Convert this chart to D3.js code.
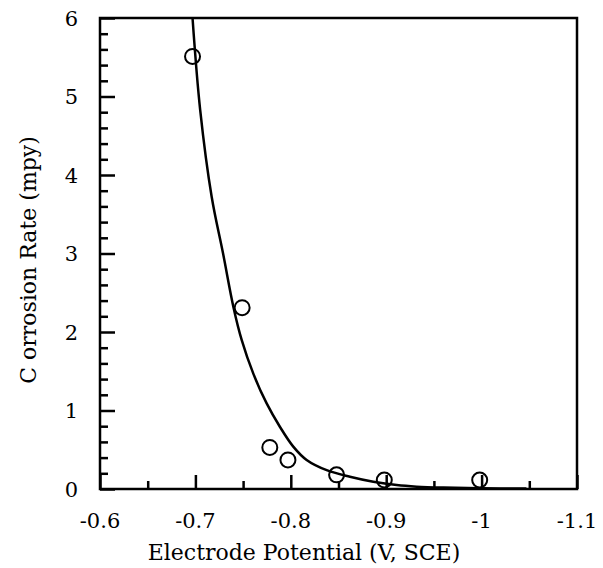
<!DOCTYPE html>
<html>
<head>
<meta charset="utf-8">
<script src="https://cdn.jsdelivr.net/npm/d3@7/dist/d3.min.js"></script>
<style>
  html, body { margin: 0; padding: 0; background: #fff; }
  svg text { font-family: "DejaVu Serif", "Liberation Serif", serif; fill: #000; }
</style>
</head>
<body>
<svg id="chart" width="603" height="568"></svg>
<script>
// Measured points
const potentials = [-0.697, -0.749, -0.778, -0.797, -0.848, -0.898, -0.998];
const rates      = [5.51, 2.31, 0.53, 0.37, 0.18, 0.115, 0.115];

// Fitted curve
const curveX = [-0.697, -0.705, -0.7171, -0.729, -0.740, -0.7485, -0.7607, -0.7747, -0.7887, -0.8026, -0.8166, -0.8376, -0.862, -0.8865, -0.911, -0.932, -0.96, -1.0, -1.047];
const curveY = [6.0, 4.83, 3.72, 3.0, 2.31, 1.90, 1.47, 1.09, 0.79, 0.54, 0.37, 0.24, 0.157, 0.093, 0.05, 0.03, 0.018, 0.01, 0.005];

const xTicks = [-0.6, -0.7, -0.8, -0.9, -1, -1.1];
const xMinorTicks = [-0.65, -0.75, -0.85, -0.95, -1.05];
const yTicks = [0, 1, 2, 3, 4, 5, 6];
const yMinorTicks = [0.2, 0.4, 0.6, 0.8, 1.2, 1.4, 1.6, 1.8, 2.2, 2.4, 2.6, 2.8, 3.2, 3.4, 3.6, 3.8, 4.2, 4.4, 4.6, 4.8, 5.2, 5.4, 5.6, 5.8];

const svg = d3.select("#chart");
const L = 100, R = 577, T = 18, B = 489;
const x = d3.scaleLinear().domain([-0.6, -1.1]).range([L, R]);
const y = d3.scaleLinear().domain([0, 6]).range([B, T]);

// Frame
svg.append("rect").attr("x", L).attr("y", T).attr("width", R - L).attr("height", B - T)
  .attr("fill", "none").attr("stroke", "#000").attr("stroke-width", 2.5);

// Inward ticks via D3 axes
const styleAxis = s => {
  s.select(".domain").remove();
  s.selectAll(".tick line").attr("stroke", "#000").attr("stroke-width", 2.5);
  s.selectAll(".tick text").remove();
};
svg.append("g").attr("transform", `translate(${L},0)`)
  .call(d3.axisRight(y).tickValues(yTicks).tickSize(15)).call(styleAxis);
svg.append("g").attr("transform", `translate(${L},0)`)
  .call(d3.axisRight(y).tickValues(yMinorTicks).tickSize(8)).call(styleAxis);
svg.append("g").attr("transform", `translate(0,${B})`)
  .call(d3.axisTop(x).tickValues(xTicks).tickSize(14)).call(styleAxis);
svg.append("g").attr("transform", `translate(0,${B})`)
  .call(d3.axisTop(x).tickValues(xMinorTicks).tickSize(8)).call(styleAxis);

// Tick labels
svg.selectAll("text.ylab").data(yTicks).join("text").attr("class", "ylab")
  .attr("x", L - 22).attr("y", d => y(d)).attr("dy", "0.36em")
  .attr("text-anchor", "end").attr("font-size", 21)
  .text(d => d3.format("d")(d));
svg.selectAll("text.xlab").data(xTicks).join("text").attr("class", "xlab")
  .attr("x", d => x(d)).attr("y", 528)
  .attr("text-anchor", "middle").attr("font-size", 21)
  .text(d => String(d));

// Curve
const curveData = curveX.map((v, i) => [v, curveY[i]]);
svg.append("path").datum(curveData)
  .attr("fill", "none").attr("stroke", "#000").attr("stroke-width", 2.5)
  .attr("d", d3.line().x(d => x(d[0])).y(d => y(d[1])).curve(d3.curveCatmullRom.alpha(0.5)));

// Points
svg.selectAll("circle.pt").data(potentials.map((v, i) => [v, rates[i]])).join("circle").attr("class", "pt")
  .attr("cx", d => x(d[0])).attr("cy", d => y(d[1])).attr("r", 7.5)
  .attr("fill", "none").attr("stroke", "#000").attr("stroke-width", 2);

// Axis titles
svg.append("text").attr("x", 304).attr("y", 560)
  .attr("text-anchor", "middle").attr("font-size", 22)
  .text("Electrode Potential (V, SCE)");
svg.append("text").attr("transform", `translate(36,260) rotate(-90)`)
  .attr("text-anchor", "middle").attr("font-size", 22)
  .text("C orrosion Rate (mpy)");
</script>
</body>
</html>
